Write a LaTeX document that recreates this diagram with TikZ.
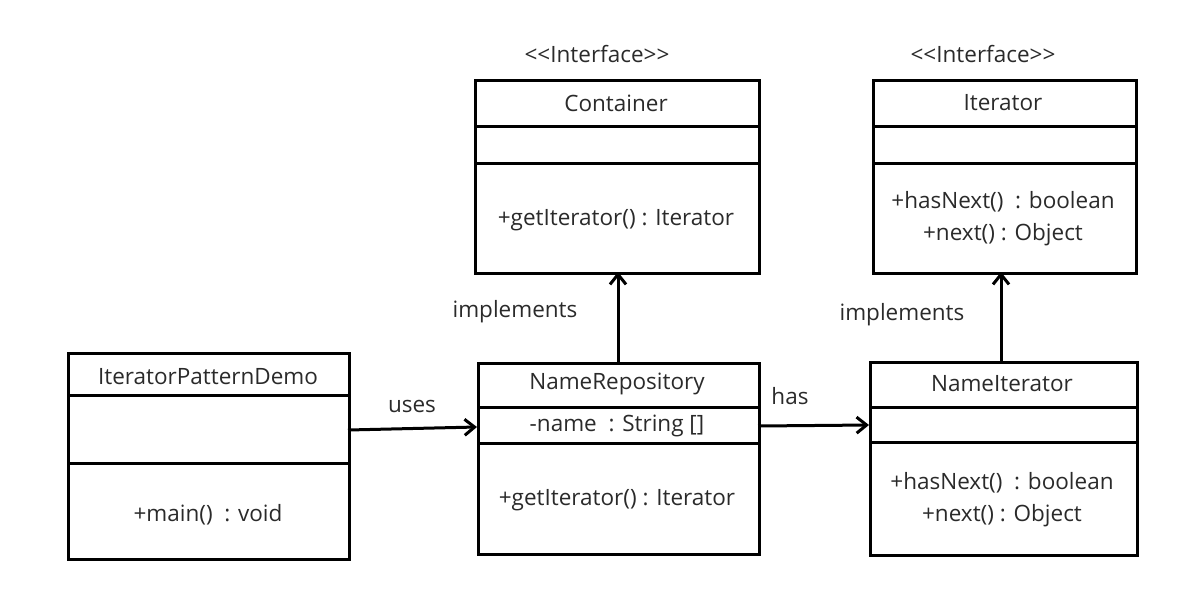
\documentclass[tikz,border=0pt]{standalone}
\usepackage{fontspec}
\setmainfont{Open Sans}
\usetikzlibrary{arrows.meta}
\definecolor{txt}{HTML}{2A2A2A}
\tikzset{
  box/.style={draw=black, line width=3pt, rectangle, inner sep=0pt, anchor=north west},
  lbl/.style={text=txt, font=\fontsize{22.5}{32}\selectfont, inner sep=0pt, align=center},
  conn/.style={draw=black, line width=3pt, -{Straight Barb[length=10pt,width=16pt,line width=3pt]}},
  sep/.style={draw=black, line width=3pt}
}
\begin{document}
\begin{tikzpicture}[x=1pt,y=-1pt]
\useasboundingbox (0,0) rectangle (1180,598);
% Container
\node[box, minimum width=284pt, minimum height=193pt] (cont) at (474,79) {};
\draw[sep] (474,126) -- (758,126) (474,163) -- (758,163);
\node[lbl] (contst) at (597,54) {<{}<Interface>{}>};
\node[lbl] (contn) at (616,103) {Container};
\node[lbl] (contm) at (616,220) {+getIterator() : Iterator};
% Iterator
\node[box, minimum width=263pt, minimum height=193pt] (iter) at (872,79) {};
\draw[sep] (872,126) -- (1135,126) (872,163) -- (1135,163);
\node[lbl] (iterst) at (983,54) {<{}<Interface>{}>};
\node[lbl] (itern) at (1003,103) {Iterator};
\node[lbl] (iterm) at (1003,219) {+hasNext()~ : boolean\\+next() : Object};
% IteratorPatternDemo
\node[box, minimum width=281pt, minimum height=206pt] (demo) at (67,352) {};
\draw[sep] (67,395) -- (348,395) (67,463) -- (348,463);
\node[lbl] (demon) at (208,377) {IteratorPatternDemo};
\node[lbl] (demom) at (208,515) {+main()~ : void};
% NameRepository
\node[box, minimum width=281pt, minimum height=191pt] (repo) at (477,362) {};
\draw[sep] (477,407) -- (758,407) (477,443) -- (758,443);
\node[lbl] (repon) at (617,384) {NameRepository};
\node[lbl] (repoa) at (617,426) {-name~ : String []};
\node[lbl] (repom) at (617,500) {+getIterator() : Iterator};
% NameIterator
\node[box, minimum width=267pt, minimum height=193pt] (niter) at (869,361) {};
\draw[sep] (869,407) -- (1136,407) (869,442) -- (1136,442);
\node[lbl] (nitern) at (1002,384) {NameIterator};
\node[lbl] (niterm) at (1002,500) {+hasNext()~ : boolean\\+next() : Object};
% connectors
\coordinate (a1) at (348,430);
\coordinate (a2) at (477,427);
\draw[conn] (a1) -- (a2);
\coordinate (b1) at (758,426);
\coordinate (b2) at (869,425);
\draw[conn] (b1) -- (b2);
\coordinate (c1) at (618,362);
\coordinate (c2) at (618,272);
\draw[conn] (c1) -- (c2);
\coordinate (d1) at (1001,361);
\coordinate (d2) at (1001,272);
\draw[conn] (d1) -- (d2);
\node[lbl] (uses) at (412,406) {uses};
\node[lbl] (has) at (790,396) {has};
\node[lbl] (impl1) at (515,312) {implements};
\node[lbl] (impl2) at (902,315) {implements};
\end{tikzpicture}
\end{document}
